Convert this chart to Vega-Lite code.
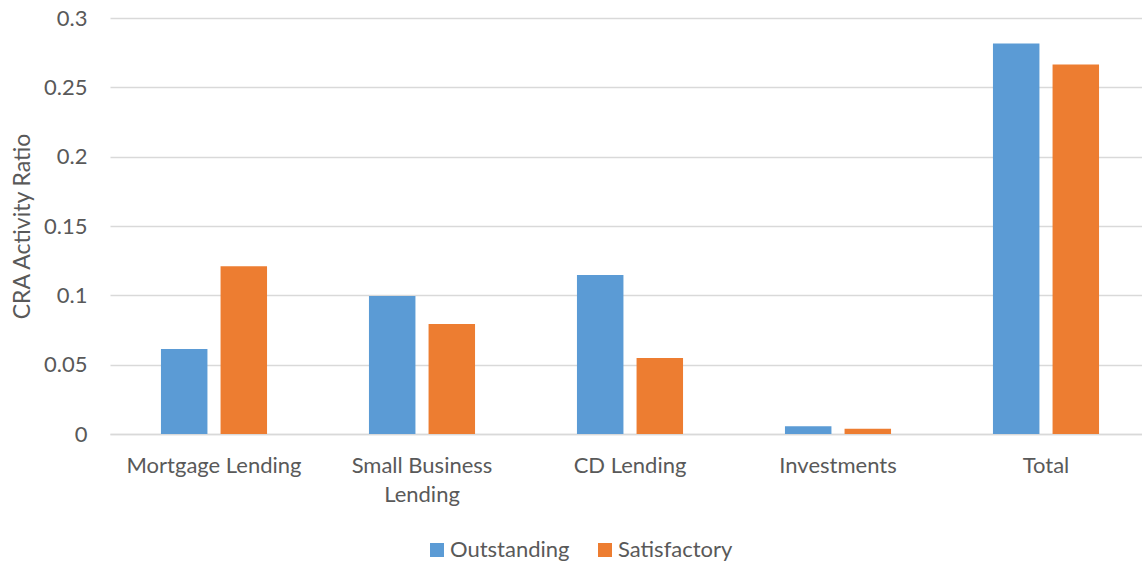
{
  "$schema": "https://vega.github.io/schema/vega-lite/v6.json",
  "width": 1040,
  "height": 416,
  "autosize": {"type": "none"},
  "padding": {"left": 110, "top": 18, "right": 0, "bottom": 129},
  "background": "white",
  "data": {
    "values": [
      {"category": "Mortgage Lending", "rating": "Outstanding", "ratio": 0.0613},
      {"category": "Mortgage Lending", "rating": "Satisfactory", "ratio": 0.121},
      {"category": "Small Business Lending", "rating": "Outstanding", "ratio": 0.0995},
      {"category": "Small Business Lending", "rating": "Satisfactory", "ratio": 0.0793},
      {"category": "CD Lending", "rating": "Outstanding", "ratio": 0.1147},
      {"category": "CD Lending", "rating": "Satisfactory", "ratio": 0.0548},
      {"category": "Investments", "rating": "Outstanding", "ratio": 0.0056},
      {"category": "Investments", "rating": "Satisfactory", "ratio": 0.0037},
      {"category": "Total", "rating": "Outstanding", "ratio": 0.2817},
      {"category": "Total", "rating": "Satisfactory", "ratio": 0.2665}
    ]
  },
  "config": {
    "font": "Lato",
    "view": {"stroke": null},
    "axis": {"labelFont": "Lato", "titleFont": "Lato", "labelColor": "#595959", "titleColor": "#595959"}
  },
  "mark": {"type": "bar"},
  "encoding": {
    "x": {
      "field": "category",
      "type": "nominal",
      "sort": null,
      "scale": {"paddingInner": 0.49, "paddingOuter": 0.245},
      "axis": {
        "title": null,
        "labelAngle": 0,
        "labelFontSize": 22,
        "labelPadding": 21,
        "labelLineHeight": 29,
        "ticks": false,
        "domainColor": "#d9d9d9",
        "domainWidth": 1.5,
        "labelExpr": "datum.label == 'Small Business Lending' ? ['Small Business', 'Lending'] : datum.label"
      }
    },
    "xOffset": {
      "field": "rating",
      "type": "nominal",
      "scale": {"paddingInner": 0.22, "paddingOuter": 0}
    },
    "y": {
      "field": "ratio",
      "type": "quantitative",
      "scale": {"domain": [0, 0.3]},
      "axis": {
        "title": "CRA Activity Ratio",
        "titleFontSize": 23,
        "titleFontWeight": "normal",
        "titlePadding": 9,
        "labelFontSize": 22,
        "labelPadding": 23,
        "values": [0, 0.05, 0.1, 0.15, 0.2, 0.25, 0.3],
        "format": ".2~f",
        "labelOverlap": false,
        "ticks": false,
        "domain": false,
        "grid": true,
        "gridColor": "#d9d9d9",
        "gridWidth": 1.5
      }
    },
    "color": {
      "field": "rating",
      "type": "nominal",
      "scale": {"domain": ["Outstanding", "Satisfactory"], "range": ["#5b9bd5", "#ed7d31"]},
      "legend": {
        "title": null,
        "orient": "none",
        "direction": "horizontal",
        "legendX": 316,
        "legendY": 521,
        "symbolType": "square",
        "symbolSize": 196,
        "symbolStrokeWidth": 0,
        "labelFontSize": 22,
        "labelColor": "#595959",
        "labelFont": "Lato",
        "labelOffset": 2,
        "columnPadding": 24
      }
    }
  }
}
